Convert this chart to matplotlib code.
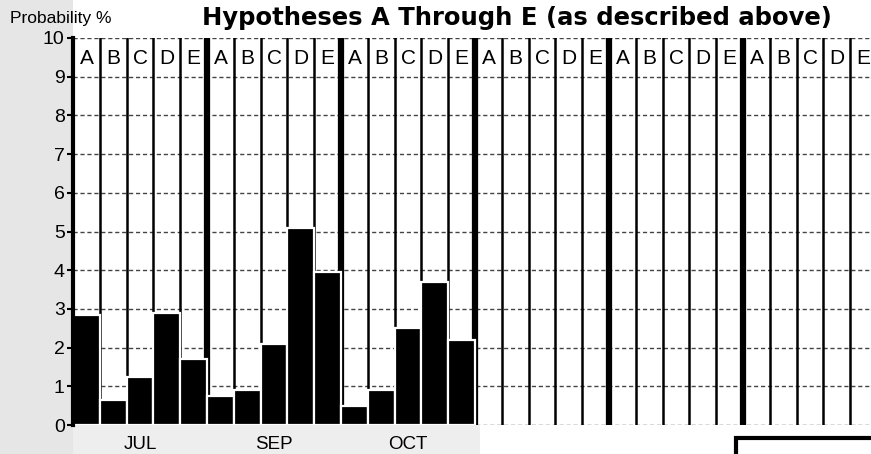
import matplotlib.pyplot as plt
from matplotlib.patches import Rectangle

# data
hypotheses = ['A', 'B', 'C', 'D', 'E']
months = ['JUL', 'SEP', 'OCT']
jul_vals = [2.85, 0.65, 1.25, 2.9, 1.7]
sep_vals = [0.75, 0.9, 2.1, 5.1, 3.95]
oct_vals = [0.5, 0.9, 2.5, 3.7, 2.2]
n_groups = 6
y_ticks = list(range(11))

W, H = 871, 454
fig = plt.figure(figsize=(W / 100, H / 100), dpi=100, facecolor='white')
plt.rcParams['font.family'] = ['Liberation Sans', 'DejaVu Sans']
narrow = ['Liberation Sans Narrow', 'Liberation Sans', 'DejaVu Sans']

# stippled margins of the scan
fig.patches.append(Rectangle((0, 0), 73 / W, 1, transform=fig.transFigure,
                             facecolor='#e6e6e6', edgecolor='none', zorder=-2))
fig.patches.append(Rectangle((73 / W, 0), (480 - 73) / W, 29 / H, transform=fig.transFigure,
                             facecolor='#eeeeee', edgecolor='none', zorder=-2))
# box peeking in at bottom right
fig.patches.append(Rectangle((736 / W, -0.1), 0.3, (H - 438) / H + 0.1,
                             transform=fig.transFigure, facecolor='white',
                             edgecolor='black', lw=3, zorder=-1))

col_w = 26.8
ax = fig.add_axes([73 / W, 29 / H, (W - 73) / W, 387 / H])
ax.set_zorder(2)
ax.set_xlim(0, (W - 73) / col_w)
ax.set_ylim(0, 10)

# horizontal dashed grid
for y in y_ticks:
    ax.axhline(y, color='#444444', lw=1.0, ls=(0, (3, 2)), zorder=1)

# vertical column rules, heavy between groups
for i in range(n_groups * 5 + 1):
    lw = 4.5 if (i % 5 == 0 and i > 0) else 1.8
    ax.axvline(i, color='black', lw=lw, zorder=2)

# bars
for g, vals in enumerate([jul_vals, sep_vals, oct_vals]):
    xs = [g * 5 + j for j in range(5)]
    ax.bar(xs, vals, width=1.0, align='edge', color='black',
           edgecolor='white', linewidth=1.6, zorder=3)

# column letters in the top row
for g in range(n_groups):
    for j, h in enumerate(hypotheses):
        ax.text(g * 5 + j + 0.5, 9.48, h, ha='center', va='center',
                fontsize=15, family=narrow, color='black', zorder=4)

# month labels under the C column of each group
for g, m in enumerate(months):
    ax.text(g * 5 + 2.5, -0.5, m, ha='center', va='center', fontsize=13.5,
            color='black', clip_on=False)

ax.set_xticks([])
ax.set_yticks(y_ticks)
ax.tick_params(axis='y', labelsize=14, length=4, width=1.5, pad=2, colors='black')
for s in ['top', 'right', 'bottom']:
    ax.spines[s].set_visible(False)
ax.spines['left'].set_linewidth(3)
ax.spines['left'].set_zorder(5)
ax.set_facecolor('white')

fig.text(10 / W, 1 - 19 / H, 'Probability %', ha='left', va='center', fontsize=12.5)
fig.text(517 / W, 1 - 18 / H, 'Hypotheses A Through E (as described above)',
         ha='center', va='center', fontsize=17.5, fontweight='bold',
         family=['DejaVu Sans'])

fig.savefig('out.png', dpi=100, facecolor='white')
